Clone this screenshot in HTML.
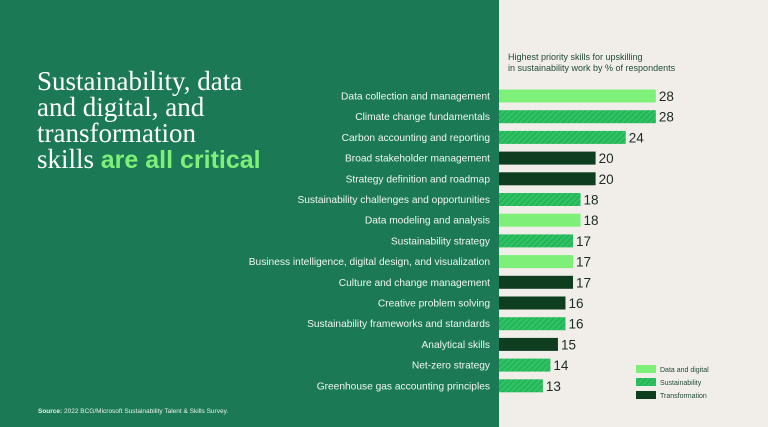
<!DOCTYPE html>
<html><head><meta charset="utf-8"><style>
body{margin:0;width:768px;height:427px;overflow:hidden;background:#f1eeea;font-family:"Liberation Sans",sans-serif;}
#panel{position:absolute;left:0;top:0;width:499px;height:427px;background:#1b7a55;}
#title{position:absolute;left:37px;top:68px;font-family:"Liberation Serif",serif;font-size:27px;line-height:26px;color:#fff;}
#title b{font-family:"Liberation Sans",sans-serif;color:#7ef07a;font-weight:bold;font-size:25px;}
#source{position:absolute;left:38px;top:408px;font-size:6.5px;color:#e8efe9;}
#sub{position:absolute;left:508px;top:52px;font-size:9px;line-height:11px;color:#214a33;}
svg{position:absolute;left:0;top:0;}
</style></head><body>
<div id="panel"></div>
<div id="title">Sustainability, data<br>and digital, and<br>transformation<br>skills <b>are all critical</b></div>
<div id="source"><b>Source:</b> 2022 BCG/Microsoft Sustainability Talent &amp; Skills Survey.</div>
<div id="sub">Highest priority skills for upskilling<br>in sustainability work by % of respondents</div>
<svg id="chart" width="768" height="427">
<defs><pattern id="hatch" width="4" height="4" patternUnits="userSpaceOnUse" patternTransform="rotate(45)"><rect width="4" height="4" fill="#2dc262"/><rect width="1" height="4" fill="#22a852"/></pattern></defs>
</svg>
<script>
const categories=["Data collection and management","Climate change fundamentals","Carbon accounting and reporting","Broad stakeholder management","Strategy definition and roadmap","Sustainability challenges and opportunities","Data modeling and analysis","Sustainability strategy","Business intelligence, digital design, and visualization","Culture and change management","Creative problem solving","Sustainability frameworks and standards","Analytical skills","Net-zero strategy","Greenhouse gas accounting principles"];
const values=[28,28,24,20,20,18,18,17,17,17,16,16,15,14,13];
const groups=["d","s","s","t","t","s","d","s","d","t","t","s","t","s","s"];
const legendLabels=["Data and digital","Sustainability","Transformation"];
const fills={d:"#7ef07a",s:"url(#hatch)",t:"#0f3d20"};
const NS="http://www.w3.org/2000/svg";
const svg=document.getElementById('chart');
const x0=445,scale=7.53,panelEdge=499;
function xs(v){return x0+v*scale;}
function ys(i){return 96+i*20.7;}
function mk(t,a){const e=document.createElementNS(NS,t);for(const k in a)e.setAttribute(k,a[k]);svg.appendChild(e);return e;}
categories.forEach((c,i)=>{
 const y=ys(i);
 const r=mk('rect',{x:panelEdge,y:y-6.5,width:Math.max(0,xs(values[i])-panelEdge),height:13,fill:fills[groups[i]]});
 
 
 const l=mk('text',{x:490,y:y+3.5,'text-anchor':'end','font-size':'10.2',fill:'#f1f5f2','font-family':'Liberation Sans, sans-serif'});
 l.textContent=c;
 
 
 const v=mk('text',{x:xs(values[i])+3,y:y+5,'font-size':'13.5',fill:'#1c2a22','font-family':'Liberation Sans, sans-serif'});
 v.textContent=values[i];
 
 
});
["d","s","t"].forEach((g,i)=>{
 const y=365+i*13;
 const r=mk('rect',{x:636,y:y,width:20,height:8,fill:fills[g]});
 
 
 const t=mk('text',{x:660,y:y+7,'font-size':'7',fill:'#214a33','font-family':'Liberation Sans, sans-serif'});
 t.textContent=legendLabels[i];
 
 
});
</script>
</body></html>
